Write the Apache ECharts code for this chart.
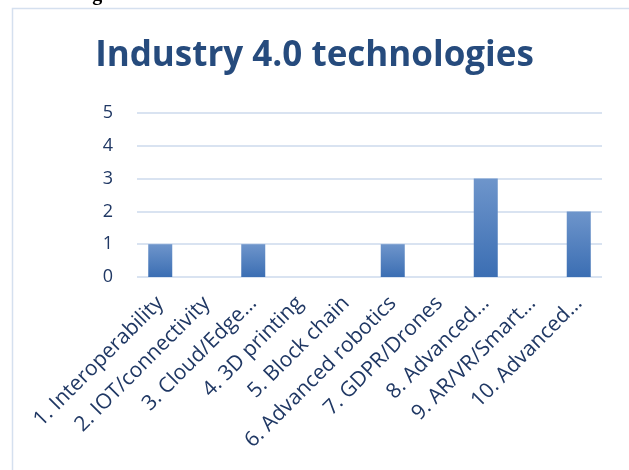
<!DOCTYPE html>
<html><head><meta charset="utf-8">
<script src="https://cdn.jsdelivr.net/npm/echarts@6/dist/echarts.min.js"></script>
<style>html,body{margin:0;padding:0;background:#fff}#c{width:629px;height:470px}</style>
</head><body><div id="c"></div>
<script>
const categories = ["1. Interoperability","2. IOT/connectivity","3. Cloud/Edge…","4. 3D printing","5. Block chain","6. Advanced robotics","7. GDPR/Drones","8. Advanced…","9. AR/VR/Smart…","10. Advanced…"];
const values = [1,0,1,0,0,1,0,3,0,2];
const yTicks = [0,1,2,3,4,5];
const titleText = "Industry 4.0 technologies";
const topText = "technologies";

const chart = echarts.init(document.getElementById('c'), null, {renderer:'canvas'});
const labelColor = '#203864';
chart.setOption({
  animation:false,
  title:{text:titleText,left:'center',top:34,textStyle:{fontFamily:'Open Sans',fontWeight:'bold',fontSize:35,color:'#264B7D'}},
  graphic:[
    {type:'rect',shape:{x:12.5,y:8.5,width:640,height:480},style:{fill:'none',stroke:'#D5E0EF',lineWidth:1.5}},
    {type:'text',left:20,top:-15,style:{text:topText,font:'bold 20px "Liberation Serif"',fill:'#000'}}
  ],
  grid:{left:137,right:27,top:113,bottom:193},
  xAxis:{type:'category',data:categories,
    axisLine:{show:false},axisTick:{show:false},
    axisLabel:{interval:0,rotate:45,fontFamily:'Open Sans',fontSize:21,color:labelColor,margin:23}},
  yAxis:{type:'value',min:yTicks[0],max:yTicks[yTicks.length-1],interval:1,
    axisLine:{show:false},axisTick:{show:false},
    axisLabel:{fontFamily:'Open Sans',fontSize:18,color:labelColor,margin:24,align:'right'},
    splitLine:{lineStyle:{color:'#D9E3F1',width:2}}},
  series:[{type:'bar',data:values,barWidth:24,
    itemStyle:{color:new echarts.graphic.LinearGradient(0,0,0,1,[{offset:0,color:'#6E95CB'},{offset:1,color:'#3B6EB3'}])}}]
});
</script></body></html>
